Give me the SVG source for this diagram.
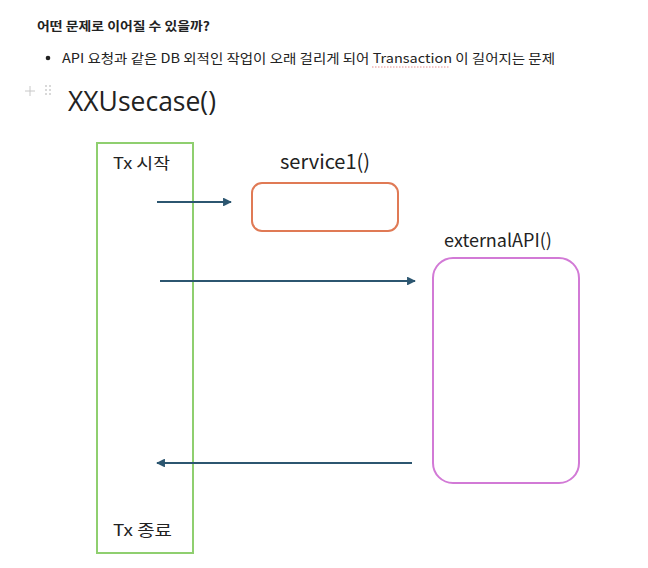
<svg xmlns="http://www.w3.org/2000/svg" width="648" height="568" viewBox="0 0 648 568">
<defs>
<style>
.t{font-family:"Noto Sans CJK KR","Noto Sans",sans-serif;fill:#222}
.conn{stroke:#2c5670;stroke-width:2.2;fill:none}
</style>
<marker id="ah" viewBox="0 0 10 10" refX="9" refY="5" markerWidth="4" markerHeight="4" orient="auto-start-reverse" markerUnits="strokeWidth">
<path d="M0,0 L10,5 L0,10 z" fill="#2c5670"/>
</marker>
</defs>
<rect width="648" height="568" fill="#ffffff"/>
<text class="t" x="37" y="31" font-size="12.5" font-weight="bold" textLength="173" lengthAdjust="spacingAndGlyphs">어떤 문제로 이어질 수 있을까?</text>
<circle cx="48" cy="58" r="2.3" fill="#222"/>
<text class="t" x="62" y="63" font-size="13" textLength="493" lengthAdjust="spacingAndGlyphs">API 요청과 같은 DB 외적인 작업이 오래 걸리게 되어 Transaction 이 길어지는 문제</text>
<line x1="372" y1="67" x2="450" y2="67" stroke="#e07070" stroke-width="0.8" stroke-dasharray="1.5,1.5"/>
<g stroke="#c8c8c8" stroke-width="1">
<line x1="25" y1="91" x2="35" y2="91"/><line x1="30" y1="86" x2="30" y2="96"/>
</g>
<g fill="#cccccc">
<circle cx="46" cy="86" r="1"/><circle cx="50" cy="86" r="1"/>
<circle cx="46" cy="90" r="1"/><circle cx="50" cy="90" r="1"/>
<circle cx="46" cy="94" r="1"/><circle cx="50" cy="94" r="1"/>
</g>
<text x="68" y="111" font-size="26.5" style="font-family:'Open Sans','Noto Sans',sans-serif;fill:#222">XXUsecase()</text>
<g id="tx">
<rect x="97" y="143" width="96" height="410" fill="none" stroke="#8fcf6f" stroke-width="2"/>
<text class="t" x="113" y="169" font-size="16" textLength="57" lengthAdjust="spacingAndGlyphs">Tx 시작</text>
<text class="t" x="113" y="536" font-size="16" textLength="59" lengthAdjust="spacingAndGlyphs">Tx 종료</text>
</g>
<g id="service1">
<text class="t" x="325" y="169" font-size="20" text-anchor="middle">service1()</text>
<rect x="252" y="183" width="146" height="48" rx="10" fill="none" stroke="#e07a55" stroke-width="2"/>
</g>
<g id="externalAPI">
<text class="t" x="498" y="247" font-size="18" text-anchor="middle">externalAPI()</text>
<rect x="433" y="258" width="146" height="225" rx="20" fill="none" stroke="#d27ad6" stroke-width="2"/>
</g>
<g id="connectors">
<line class="conn" x1="157" y1="202" x2="231" y2="202" marker-end="url(#ah)"/>
<line class="conn" x1="160" y1="281" x2="415" y2="281" marker-end="url(#ah)"/>
<line class="conn" x1="412" y1="463" x2="157" y2="463" marker-end="url(#ah)"/>
</g>
</svg>
